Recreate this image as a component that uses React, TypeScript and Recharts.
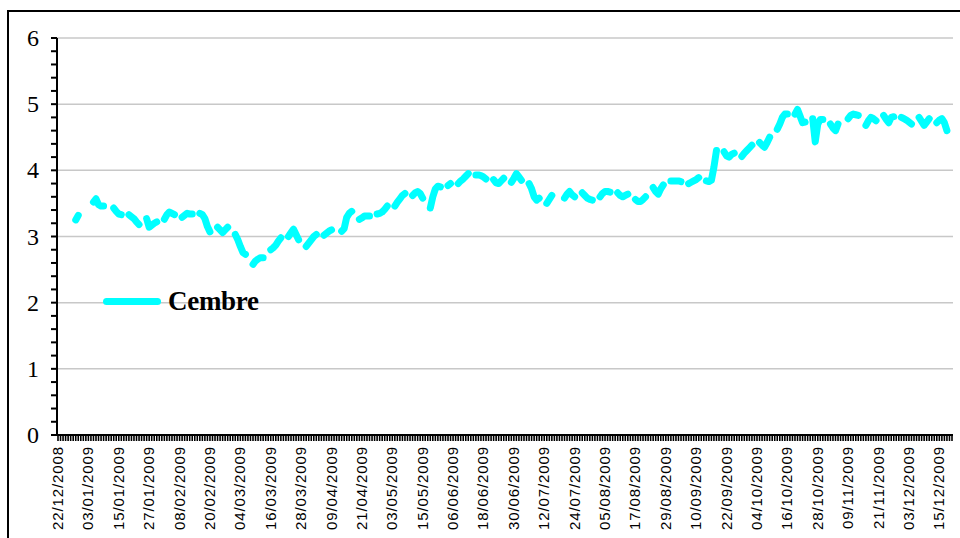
import { LineChart, Line, XAxis, YAxis, CartesianGrid, Legend } from 'recharts';

const tickLabels = [
  '22/12/2008', '03/01/2009', '15/01/2009', '27/01/2009', '08/02/2009', '20/02/2009',
  '04/03/2009', '16/03/2009', '28/03/2009', '09/04/2009', '21/04/2009', '03/05/2009',
  '15/05/2009', '06/06/2009', '18/06/2009', '30/06/2009', '12/07/2009', '24/07/2009',
  '05/08/2009', '17/08/2009', '29/08/2009', '10/09/2009', '22/09/2009', '04/10/2009',
  '16/10/2009', '28/10/2009', '09/11/2009', '21/11/2009', '03/12/2009', '15/12/2009',
];

const seriesName = 'Cembre';

// one row per trading week (Mon..Fri); the weekend days between rows stay empty
const weeks: (number | null)[][] = [
  [null, null, null, null, null],
  [3.25, 3.32, null, null, null],
  [3.52, 3.57, 3.48, 3.46, 3.46],
  [null, 3.43, 3.38, 3.34, 3.33],
  [3.33, 3.3, 3.27, 3.22, 3.18],
  [3.27, 3.14, 3.17, 3.2, 3.22],
  [3.26, 3.33, 3.37, 3.35, 3.33],
  [3.29, 3.32, 3.35, 3.34, 3.34],
  [3.35, 3.33, 3.27, 3.15, 3.07],
  [3.14, 3.1, 3.06, 3.1, 3.14],
  [3.03, 2.95, 2.85, 2.76, 2.73],
  [2.58, 2.63, 2.66, 2.68, 2.68],
  [2.8, 2.83, 2.87, 2.93, 2.98],
  [3.0, 3.06, 3.11, 3.03, 2.95],
  [2.85, 2.9, 2.95, 3.0, 3.03],
  [3.02, 3.05, 3.08, 3.1, null],
  [3.08, 3.12, 3.29, 3.35, 3.38],
  [3.26, 3.28, 3.31, 3.31, 3.31],
  [3.34, 3.35, 3.37, 3.41, 3.46],
  [3.46, 3.52, 3.57, 3.62, 3.65],
  [3.62, 3.66, 3.68, 3.65, 3.58],
  [3.43, 3.6, 3.72, 3.76, 3.75],
  [3.77, 3.8],
  [3.8, 3.84, 3.87, 3.91, 3.95],
  [3.93, 3.93, 3.92, 3.9, 3.87],
  [3.86, 3.81, 3.8, 3.84, 3.88],
  [3.82, 3.88, 3.95, 3.9, 3.85],
  [3.8, 3.72, 3.6, 3.55, 3.58],
  [3.5, 3.56, 3.62, null, null],
  [3.58, 3.64, 3.68, 3.63, 3.6],
  [3.66, 3.62, 3.58, 3.56, 3.55],
  [3.6, 3.65, 3.68, 3.68, 3.67],
  [3.66, 3.62, 3.6, 3.62, 3.64],
  [3.56, 3.53, 3.53, 3.56, 3.6],
  [3.74, 3.68, 3.64, 3.72, 3.78],
  [3.84, 3.84, 3.84, 3.84, 3.83],
  [3.8, 3.82, 3.84, 3.86, 3.89],
  [3.84, 3.83, 3.85, 4.05, 4.3],
  [4.28, 4.22, 4.2, 4.24, 4.26],
  [4.21, 4.26, 4.3, 4.34, 4.38],
  [4.42, 4.38, 4.35, 4.42, 4.5],
  [4.62, 4.7, 4.8, 4.85, 4.85],
  [4.85, 4.92, 4.82, 4.72, 4.73],
  [4.78, 4.43, 4.7, 4.77, 4.77],
  [4.7, 4.64, 4.6, 4.7, null],
  [4.78, 4.83, 4.85, 4.84, 4.83],
  [4.68, 4.75, 4.8, 4.78, 4.75],
  [4.83, 4.77, 4.72, 4.8, 4.81],
  [4.8, 4.78, 4.76, 4.73, 4.7],
  [4.8, 4.74, 4.68, 4.73, 4.78],
  [4.72, 4.76, 4.78, 4.72, 4.6],
];

const majorTicks = [0, 1, 2, 3, 4, 5, 6];
const yTicks = majorTicks.flatMap((t) => (t === 6 ? [6] : [t, t + 0.2, t + 0.4, t + 0.6, t + 0.8]));

const data: { day: number; value: number | null }[] = [];
weeks.forEach((week) => {
  [...week, null, null].forEach((v) => data.push({ day: data.length, value: v }));
});

function DateTick({ x, y, payload }: any) {
  const i = payload.value as number;
  if (i % 12 !== 0) return <g />;
  return (
    <text
      transform={`translate(${x + 5},${y + 5}) rotate(-90)`}
      textAnchor="end"
      fontFamily="'Liberation Sans', Arial, sans-serif"
      fontSize={15}
      letterSpacing={0.9}
      fill="#000"
    >
      {tickLabels[i / 12]}
    </text>
  );
}

function ValueTick({ x, y, payload }: any) {
  if (!Number.isInteger(payload.value)) return <g />;
  return (
    <text
      x={x - 6}
      y={y}
      dy={8}
      textAnchor="end"
      fontFamily="'Liberation Serif', 'Times New Roman', serif"
      fontSize={24}
      fill="#000"
    >
      {payload.value}
    </text>
  );
}

function LegendContent({ payload }: any) {
  const item = payload && payload[0];
  return (
    <div style={{ display: 'flex', alignItems: 'center' }}>
      <span
        style={{
          display: 'inline-block',
          width: 58,
          height: 7,
          borderRadius: 4,
          background: item ? item.color : '#00ffff',
          marginRight: 7,
        }}
      />
      <span style={{ fontFamily: "'Liberation Serif', 'Times New Roman', serif", fontWeight: 'bold', fontSize: 27, letterSpacing: -0.3, color: '#000' }}>
        {item ? item.value : seriesName}
      </span>
    </div>
  );
}

export default function App() {
  return (
    <div style={{ position: 'relative', width: 960, height: 538, overflow: 'hidden', background: '#fff' }}>
      <style>{'body{margin:0;overflow:hidden}'}</style>
      <div
        style={{
          position: 'absolute',
          left: 7,
          top: 10,
          width: 970,
          height: 560,
          border: '2px solid #000',
          boxSizing: 'border-box',
          pointerEvents: 'none',
        }}
      />
      <LineChart width={960} height={538} data={data} margin={{ top: 38, right: 7, bottom: 0, left: 0 }}>
        <CartesianGrid vertical={false} horizontalValues={[1, 2, 3, 4, 5, 6]} stroke="#c8c8c8" strokeWidth={1.5} />
        <XAxis
          dataKey="day"
          type="category"
          interval={0}
          height={103}
          tickSize={6}
          tickMargin={0}
          padding={{ left: 1, right: 1 }}
          axisLine={{ stroke: '#000', strokeWidth: 2 }}
          tickLine={{ stroke: '#000', strokeWidth: 1.6 }}
          tick={<DateTick />}
        />
        <YAxis
          type="number"
          domain={[0, 6]}
          ticks={yTicks}
          interval={0}
          width={57}
          tickSize={6}
          tickMargin={6}
          axisLine={{ stroke: '#000', strokeWidth: 2 }}
          tickLine={{ stroke: '#000', strokeWidth: 2 }}
          tick={<ValueTick />}
        />
        <Legend
          layout="vertical"
          align="center"
          verticalAlign="middle"
          content={<LegendContent />}
          wrapperStyle={{ left: 103, top: 286, width: 'auto' }}
        />
        <Line
          type="linear"
          dataKey="value"
          name={seriesName}
          stroke="#00ffff"
          strokeWidth={7}
          strokeLinecap="round"
          strokeLinejoin="round"
          dot={false}
          activeDot={false}
          connectNulls={false}
          isAnimationActive={false}
        />
      </LineChart>
    </div>
  );
}
